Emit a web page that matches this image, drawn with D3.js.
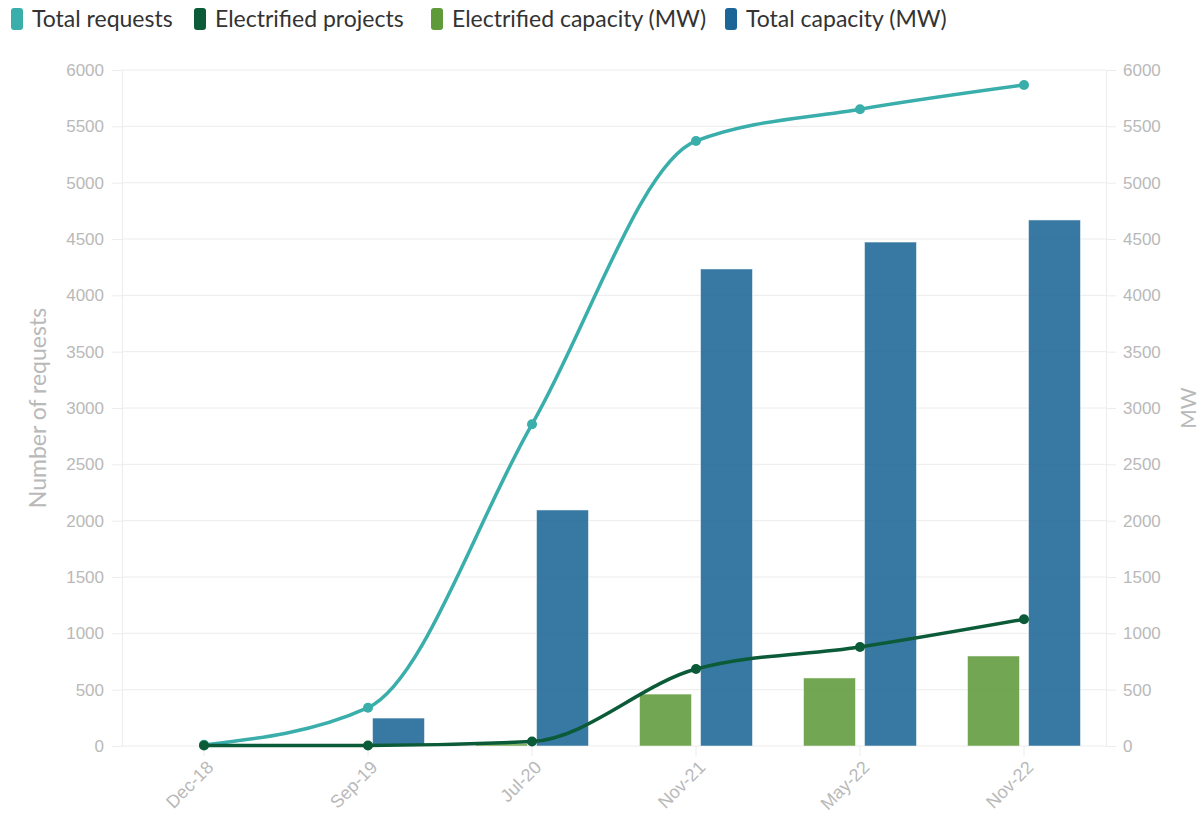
<!DOCTYPE html>
<html>
<head>
<meta charset="utf-8">
<script src="https://cdn.jsdelivr.net/npm/d3@7"></script>
<style>
  body { margin: 0; background: #fff; }
  svg { font-family: "Source Sans Pro", Lato, "Noto Sans", sans-serif; }
</style>
</head>
<body>
<svg width="1199" height="814"></svg>
<script>
// chart data
const categories = ["Dec-18", "Sep-19", "Jul-20", "Nov-21", "May-22", "Nov-22"];
const totalRequests = [10, 340, 2855, 5370, 5652, 5867];
const electrifiedProjects = [5, 5, 40, 683, 879, 1125];
const electrifiedCapacity = [0, 0, 20, 461, 604, 799];
const totalCapacity = [0, 248, 2095, 4234, 4473, 4669];
const yTicks = d3.range(0, 6001, 500);

const colors = {
  req: "#3aaeaa",
  proj: "#0b5a38",
  elecCap: "#5e9a3a",
  totCap: "#1c6697"
};

const svg = d3.select("svg");
const plotLeft = 122, plotRight = 1106, plotTop = 70, plotBottom = 746;

const x = d3.scaleBand().domain(categories).range([plotLeft, plotRight]).padding(0);
const x1 = d3.scaleBand().domain(["elec", "tot"]).range([0, x.bandwidth()])
    .paddingInner(0.148).paddingOuter(0.418);
const y = d3.scaleLinear().domain([0, 6000]).range([plotBottom, plotTop]);
const y2 = d3.scaleLinear().domain([0, 6000]).range([plotBottom, plotTop]);

// grid
svg.append("g").selectAll("line")
  .data(yTicks)
  .join("line")
  .attr("x1", plotLeft).attr("x2", plotRight)
  .attr("y1", d => y(d)).attr("y2", d => y(d))
  .attr("stroke", "#ececec").attr("stroke-width", 1);

// left axis
const gl = svg.append("g").attr("transform", `translate(${plotLeft},0)`)
  .call(d3.axisLeft(y).tickValues(yTicks).tickFormat(d3.format("d")).tickSize(10).tickPadding(8));
gl.select(".domain").attr("stroke", "#ececec");
gl.selectAll(".tick line").attr("stroke", "#ececec");
gl.selectAll("text").attr("fill", "#b9b9b9").style("font-size", "17px");

// right axis
const gr = svg.append("g").attr("transform", `translate(${plotRight},0)`)
  .call(d3.axisRight(y2).tickValues(yTicks).tickFormat(d3.format("d")).tickSize(10).tickPadding(7));
gr.select(".domain").attr("stroke", "#ececec");
gr.selectAll(".tick line").attr("stroke", "#ececec");
gr.selectAll("text").attr("fill", "#b9b9b9").style("font-size", "17px");

// bottom axis
const gb = svg.append("g").attr("transform", `translate(0,${plotBottom})`)
  .call(d3.axisBottom(x).tickSize(10));
gb.select(".domain").remove();
gb.selectAll(".tick line").attr("stroke", "#ececec");
gb.selectAll("text")
  .attr("fill", "#b9b9b9").style("font-size", "18px")
  .attr("text-anchor", "end")
  .attr("x", 0).attr("y", 0).attr("dx", 0).attr("dy", "0.35em")
  .attr("transform", "translate(6,18) rotate(-45)");

// axis titles
svg.append("text")
  .attr("transform", `translate(46,${(plotTop + plotBottom) / 2}) rotate(-90)`)
  .attr("text-anchor", "middle")
  .attr("fill", "#b9b9b9").style("font-size", "23px")
  .text("Number of requests");
svg.append("text")
  .attr("transform", `translate(1196,${(plotTop + plotBottom) / 2}) rotate(-90)`)
  .attr("text-anchor", "middle")
  .attr("fill", "#b9b9b9").style("font-size", "21px")
  .text("MW");

// bars
const barData = categories.map((c, i) => [
  { cat: c, key: "elec", v: electrifiedCapacity[i] },
  { cat: c, key: "tot", v: totalCapacity[i] }
]).flat().filter(d => d.v > 0);

svg.append("g").selectAll("rect")
  .data(barData)
  .join("rect")
  .attr("x", d => x(d.cat) + x1(d.key))
  .attr("y", d => y2(d.v))
  .attr("width", x1.bandwidth())
  .attr("height", d => plotBottom - y2(d.v))
  .attr("fill", d => d.key === "elec" ? colors.elecCap : colors.totCap)
  .attr("fill-opacity", 0.88)
  .attr("stroke", "#ffffff").attr("stroke-opacity", 0.5).attr("stroke-width", 1);

// lines
const line = d3.line()
  .x((d, i) => x(categories[i]) + x.bandwidth() / 2)
  .y(d => y(d))
  .curve(d3.curveMonotoneX);

function drawSeries(values, color) {
  svg.append("path")
    .datum(values)
    .attr("d", line)
    .attr("fill", "none")
    .attr("stroke", color)
    .attr("stroke-width", 3.5);
  svg.append("g").selectAll("circle")
    .data(values)
    .join("circle")
    .attr("cx", (d, i) => x(categories[i]) + x.bandwidth() / 2)
    .attr("cy", d => y(d))
    .attr("r", 5)
    .attr("fill", color);
}
drawSeries(totalRequests, colors.req);
drawSeries(electrifiedProjects, colors.proj);

// legend
const legendItems = [
  { name: "Total requests", color: colors.req, x: 11 },
  { name: "Electrified projects", color: colors.proj, x: 194 },
  { name: "Electrified capacity (MW)", color: colors.elecCap, x: 431 },
  { name: "Total capacity (MW)", color: colors.totCap, x: 725 }
];
const lg = svg.append("g").selectAll("g")
  .data(legendItems)
  .join("g")
  .attr("transform", d => `translate(${d.x},8)`);
lg.append("rect")
  .attr("width", 12).attr("height", 22).attr("rx", 3)
  .attr("fill", d => d.color);
lg.append("text")
  .attr("x", 21).attr("y", 19)
  .attr("fill", "#333").style("font-size", "23px")
  .text(d => d.name);
</script>
</body>
</html>
